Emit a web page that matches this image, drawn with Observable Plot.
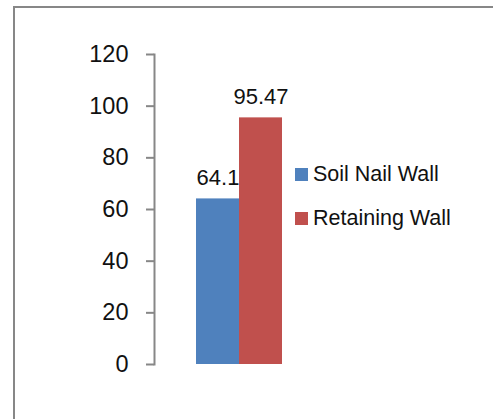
<!DOCTYPE html>
<html>
<head>
<meta charset="utf-8">
<script src="https://cdn.jsdelivr.net/npm/d3@7"></script>
<script src="https://cdn.jsdelivr.net/npm/@observablehq/plot@0.6"></script>
<style>
  html, body { margin: 0; padding: 0; background: #fff; overflow: hidden; }
  #wrap { position: relative; width: 493px; height: 419px; overflow: hidden; font-family: "Liberation Sans", Arial, sans-serif; }
  #border { position: absolute; left: 13px; top: 6px; width: 600px; height: 600px; border: 2px solid #878787; box-sizing: border-box; }
  #chart { position: absolute; left: 0; top: 0; }
  #legend { position: absolute; left: 295px; top: 152px; font-size: 21.5px; color: #111; }
  .item { display: flex; align-items: center; height: 44px; }
  .sw { width: 13px; height: 13px; margin-right: 5px; }
</style>
</head>
<body>
<div id="wrap">
  <div id="border"></div>
  <div id="chart"></div>
  <div id="legend"></div>
</div>
<script>
const series = ["Soil Nail Wall", "Retaining Wall"];
const values = [64.1, 95.47];
const labels = ["64.1", "95.47"];
const colors = ["#4F81BD", "#C0504D"];
const yTicks = [0, 20, 40, 60, 80, 100, 120];

const data = series.map((s, i) => ({series: s, value: values[i], label: labels[i]}));

const chart = Plot.plot({
  width: 493,
  height: 419,
  marginLeft: 154,
  marginRight: 211,
  marginTop: 54,
  marginBottom: 55,
  style: {fontFamily: "'Liberation Sans', Arial, sans-serif", fontSize: "22px", background: "transparent", color: "#111"},
  x: {domain: series, range: [195, 282], padding: 0, axis: null},
  y: {domain: [0, 120]},
  color: {domain: series, range: colors},
  marks: [
    Plot.barY(data, {x: "series", y: "value", fill: "series"}),
    Plot.text(data, {x: "series", y: "value", text: "label", lineAnchor: "bottom", dy: -14, fontSize: 22, fill: "#111"}),
    Plot.frame({anchor: "left", stroke: "#878787", strokeWidth: 2, strokeOpacity: 1}),
    Plot.axisY({ticks: yTicks, tickSize: 8, tickPadding: 18, stroke: "#878787", strokeWidth: 2, strokeOpacity: 1, tickFormat: d => String(d), fontSize: 23.5, fill: "#111", label: null})
  ]
});
document.getElementById("chart").appendChild(chart);

const legend = document.getElementById("legend");
series.forEach((s, i) => {
  const it = document.createElement("div");
  it.className = "item";
  const sw = document.createElement("div");
  sw.className = "sw";
  sw.style.background = colors[i];
  const tx = document.createElement("span");
  tx.textContent = s;
  it.appendChild(sw);
  it.appendChild(tx);
  legend.appendChild(it);
});
</script>
</body>
</html>
